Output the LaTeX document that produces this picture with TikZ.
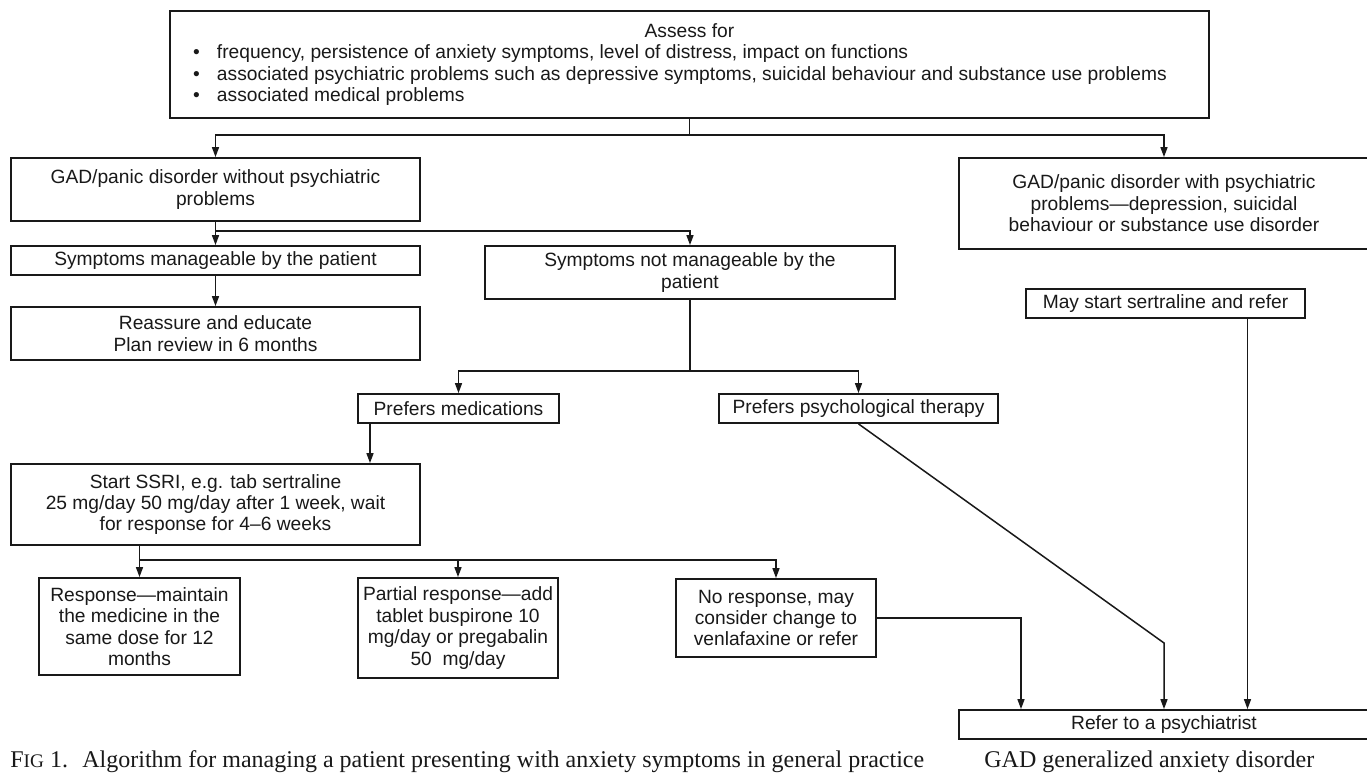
\documentclass[tikz,border=0pt]{standalone}
\usepackage{fontspec}
\setmainfont{Liberation Sans}
\newfontfamily\capfont{Liberation Serif}
\usepackage{tikz}
\usetikzlibrary{calc}
\usetikzlibrary{arrows.meta}
\usetikzlibrary{positioning}
\tikzset{>={Triangle[length=5pt,width=3.5pt]}}
\tikzstyle{box} = [rectangle, draw=black!90, line width=0.9pt, inner sep=0, align=center, text=black!90, font=\fontsize{9.6}{10.7}\selectfont]
\tikzstyle{arr} = [->, draw=black!90, line width=0.75pt]
\tikzstyle{link} = [-, draw=black!90, line width=0.75pt]
\tikzstyle{caption} = [anchor=base west, inner sep=0, text=black!90, font=\capfont\fontsize{12}{14}\selectfont]
\newcommand{\assessitem}[1]{\makebox[496.5pt][l]{\makebox[12pt][l]{\textbullet}#1}}

\begin{document}
\begin{tikzpicture}[x=0.5pt, y=-0.5pt]
\useasboundingbox (0,0) rectangle (1367,774);
\fill [white] (0,0) rectangle (1367,774);

% assessment
\node [box, minimum width=519.5pt, minimum height=53.5pt] (assess) at (689.5,64.5) {Assess for\\
  \assessitem{frequency, persistence of anxiety symptoms, level of distress, impact on functions}\\
  \assessitem{associated psychiatric problems such as depressive symptoms, suicidal behaviour and substance use problems}\\
  \assessitem{associated medical problems}};

% first split
\node [box, minimum width=204.5pt, minimum height=31.5pt] (gadwo) at (215.5,189.5) {GAD/panic disorder without psychiatric\\problems};
\node [box, minimum width=205pt, minimum height=45.5pt] (gadw) at (1164,203.5) {GAD/panic disorder with psychiatric\\problems---depression, suicidal\\behaviour or substance use disorder};

\node [box, minimum width=204.5pt, minimum height=14.5pt] (manage) at (215.5,260.5) {Symptoms manageable by the patient};
\node [box, minimum width=205pt, minimum height=26.5pt] (notmanage) at (690,272.5) {Symptoms not manageable by the\\patient};
\node [box, minimum width=204.5pt, minimum height=26.5pt] (reassure) at (215.5,333.5) {Reassure and educate\\Plan review in 6 months};
\node [box, minimum width=139.5pt, minimum height=14.5pt] (maystart) at (1165.5,303.5) {May start sertraline and refer};

% preferences
\node [box, minimum width=100.5pt, minimum height=14.5pt] (prefmed) at (458.5,408.5) {Prefers medications};
\node [box, minimum width=139.5pt, minimum height=14.5pt] (prefpsy) at (858.5,408.5) {Prefers psychological therapy};
\node [box, minimum width=204.5pt, minimum height=40.5pt] (ssri) at (215.5,504.5) {Start SSRI, e.g. tab sertraline\\25 mg/day 50 mg/day after 1 week, wait\\for response for 4--6 weeks};

% outcomes
\node [box, minimum width=100.5pt, minimum height=48.5pt] (resp) at (139.5,626.5) {Response---maintain\\the medicine in the\\same dose for 12\\months};
\node [box, minimum width=100pt, minimum height=50pt] (partial) at (458,628) {Partial response---add\\tablet buspirone 10\\mg/day or pregabalin\\50~~mg/day};
\node [box, minimum width=100pt, minimum height=39pt] (noresp) at (776,618) {No response, may\\consider change to\\venlafaxine or refer};
\node [box, minimum width=205pt, minimum height=14.5pt] (refer) at (1164,724.5) {Refer to a psychiatrist};

% captions
\node [caption] (figcap) at (10,768) {F{\fontsize{9.6}{11}\selectfont IG} 1.\hspace{0.6em}Algorithm for managing a patient presenting with anxiety symptoms in general practice};
\node [caption] (gadcap) at (984,768) {GAD generalized anxiety disorder};

% connectors
\coordinate (split1) at (689.5,135);
\draw [link] (assess.south) -- (split1);
\draw [arr] (split1) -| (gadwo.north);
\draw [arr] (split1) -| (gadw.north);

\coordinate (split2) at (215.5,231);
\draw [link] (gadwo.south) -- (split2);
\draw [arr] (split2) -- (manage.north);
\draw [arr] (split2) -| (notmanage.north);
\draw [arr] (manage) -- (reassure);

\coordinate (split3) at (690,371);
\draw [link] (notmanage.south) -- (split3);
\draw [arr] (split3) -| (prefmed.north);
\draw [arr] (split3) -| (prefpsy.north);

\draw [arr] ([xshift=-44.25pt]prefmed.south) -- ([xshift=-44.25pt]prefmed.south |- ssri.north);

\coordinate (split4) at (139.5,560);
\draw [arr] (ssri.south -| resp.north) -- (resp.north);
\draw [arr] (split4) -| (partial.north);
\draw [arr] (split4) -| (noresp.north);

\draw [arr] (noresp.east) -| ([xshift=-71.5pt]refer.north);
\draw [arr] (prefpsy.south) -- (refer.north |- 0,643) -- (refer.north);
\draw [arr] ([xshift=41pt]maystart.south) -- ([xshift=41pt]maystart.south |- refer.north);
\end{tikzpicture}
\end{document}
